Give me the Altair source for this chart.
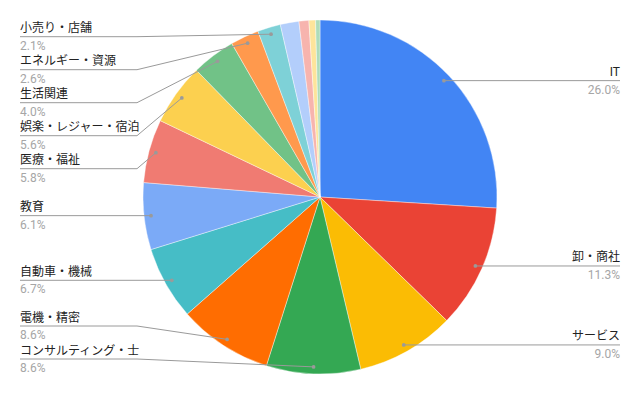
import math
import altair as alt
import pandas as pd

# ---- data ----
categories = ["IT", "卸・商社", "サービス", "コンサルティング・士", "電機・精密",
              "自動車・機械", "教育", "医療・福祉", "娯楽・レジャー・宿泊", "生活関連",
              "エネルギー・資源", "小売り・店舗", "その他1", "その他2", "その他3", "その他4"]
values = [26.0, 11.3, 9.0, 8.6, 8.6, 6.7, 6.1, 5.8, 5.6, 4.0, 2.6, 2.1, 1.7, 0.9, 0.6, 0.4]
labeled = [True] * 12 + [False] * 4
colors = ["#4285f4", "#ea4335", "#fbbc04", "#34a853", "#ff6d01", "#46bdc6",
          "#7baaf7", "#f07b72", "#fcd04f", "#71c287", "#ff994d", "#7ed1d7",
          "#b3cefb", "#f7b4ae", "#fde49b", "#aedcba"]

# ---- layout constants ----
W, H = 640, 396
CX, CY = 320, 197
R = 177
R_ANCHOR = 170
LEFT_X, RIGHT_X = 20, 620
LEFT_KINK, RIGHT_KINK = 137, 503
GAP, YMIN, YMAX = 33, 36.7, 359
FONT = "Roboto, 'Noto Sans CJK JP', sans-serif"

total = sum(values)
pie_df = pd.DataFrame({"name": categories, "value": values, "idx": list(range(len(values)))})

# anchor points and label sides computed from the values
rows = []
cum = 0.0
for i, (c, v) in enumerate(zip(categories, values)):
    mid = (cum + v / 2) / total
    cum += v
    if not labeled[i]:
        continue
    a = 2 * math.pi * mid
    ax = CX + R_ANCHOR * math.sin(a)
    ay = CY - R_ANCHOR * math.cos(a)
    rows.append({"name": c, "pct": f"{v / total * 100:.1f}%", "ax": ax, "ay": ay,
                 "side": "right" if math.sin(a) > 0 else "left"})

for side in ("left", "right"):
    items = sorted([r for r in rows if r["side"] == side], key=lambda r: r["ay"])
    prev = None
    for r in items:
        y = max(r["ay"], YMIN)
        if prev is not None:
            y = max(y, prev + GAP)
        r["ly"] = y
        prev = y
    nxt = None
    for r in reversed(items):
        y = min(r["ly"], YMAX)
        if nxt is not None:
            y = min(y, nxt - GAP)
        r["ly"] = y
        nxt = y

line_rows, text_rows, dot_rows = [], [], []
for r in rows:
    if r["side"] == "left":
        pts = [(LEFT_X, r["ly"]), (LEFT_KINK, r["ly"]), (r["ax"], r["ay"])]
        tx = LEFT_X
    else:
        pts = [(RIGHT_X, r["ly"]), (RIGHT_KINK, r["ly"]), (r["ax"], r["ay"])]
        tx = RIGHT_X
    for k, (px, py) in enumerate(pts):
        line_rows.append({"name": r["name"], "x": px, "y": py, "ord": k})
    text_rows.append({"name": r["name"], "pct": r["pct"], "x": tx, "y": r["ly"], "side": r["side"]})
    dot_rows.append({"name": r["name"], "x": r["ax"], "y": r["ay"]})

lines_df = pd.DataFrame(line_rows)
text_df = pd.DataFrame(text_rows)
dots_df = pd.DataFrame(dot_rows)

xs = alt.X("x:Q", scale=alt.Scale(domain=[0, W], nice=False, zero=False), axis=None)
ys = alt.Y("y:Q", scale=alt.Scale(domain=[0, H], reverse=True, nice=False, zero=False), axis=None)

pie = alt.Chart(pie_df).mark_arc(radius=R, stroke="white", strokeWidth=0.4).encode(
    theta=alt.Theta("value:Q", stack=True),
    color=alt.Color("name:N", scale=alt.Scale(domain=categories, range=colors), legend=None),
    order=alt.Order("idx:Q"),
    x=alt.value(CX),
    y=alt.value(CY),
)

leaders = alt.Chart(lines_df).mark_line(color="#9a9a9a", strokeWidth=1).encode(
    x=xs, y=ys, detail="name:N", order="ord:Q"
)

dots = alt.Chart(dots_df).mark_circle(size=14, color="#9a9a9a", opacity=1).encode(x=xs, y=ys)

def labels(side, align):
    base = alt.Chart(text_df).transform_filter(alt.datum.side == side)
    names = base.mark_text(align=align, baseline="alphabetic", dy=-4.5, font=FONT,
                           fontSize=12, color="#222222").encode(x=xs, y=ys, text="name:N")
    pcts = base.mark_text(align=align, baseline="alphabetic", dy=13, font=FONT,
                          fontSize=12, color="#a6a6a6").encode(x=xs, y=ys, text="pct:N")
    return names + pcts

chart = alt.layer(pie, leaders, dots, labels("left", "left"), labels("right", "right")).properties(
    width=W, height=H, padding=0, autosize=alt.AutoSizeParams(type="none"),
    background="white",
).configure_view(stroke=None)

chart.save("out.html", embed_options={"renderer": "svg", "actions": False})
